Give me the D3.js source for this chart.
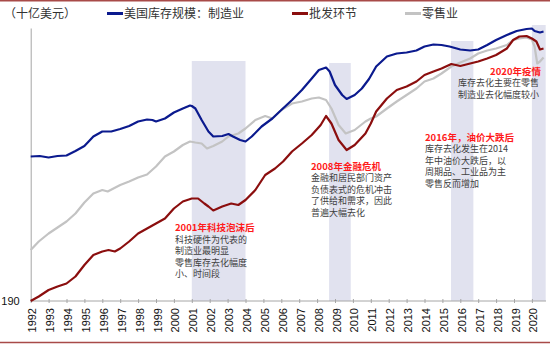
<!DOCTYPE html>
<html>
<head>
<meta charset="utf-8">
<script src="https://cdn.jsdelivr.net/npm/d3@7"></script>
<style>
  body { margin: 0; background: #fff; }
  svg { display: block; font-family: "Liberation Sans", Arial, sans-serif; }
  .cjk { font-family: "Noto Sans CJK SC", sans-serif; }
</style>
</head>
<body>
<svg id="chart" width="550" height="344"></svg>
<script>
// inventories, billions of dollars: [year, value]
const manufacturing = [
  [1992.0, 479], [1992.5, 480], [1993.0, 477], [1993.5, 480], [1994.0, 481], [1994.5, 490],
  [1995.0, 500], [1995.5, 519], [1996.0, 529], [1996.5, 529], [1997.0, 534], [1997.5, 540],
  [1998.0, 549], [1998.5, 553], [1998.8, 552], [1999.0, 549], [1999.5, 555], [2000.0, 567],
  [2000.5, 575], [2000.9, 581], [2001.0, 580], [2001.2, 575], [2001.55, 552], [2001.93, 529],
  [2002.2, 519], [2002.7, 520], [2003.05, 524], [2003.3, 519], [2003.7, 512], [2004.0, 509],
  [2004.35, 519], [2004.9, 539], [2005.5, 555], [2006.0, 572], [2006.6, 592], [2007.15, 612],
  [2007.7, 635], [2008.1, 652], [2008.5, 657], [2008.7, 649], [2009.0, 622], [2009.4, 602],
  [2009.65, 594], [2010.1, 602], [2010.5, 615], [2010.9, 634], [2011.3, 659], [2011.9, 679],
  [2012.45, 685], [2013.0, 687], [2013.55, 691], [2014.0, 699], [2014.5, 703], [2014.95, 702],
  [2015.4, 699], [2016.0, 693], [2016.55, 691], [2017.0, 693], [2017.5, 702], [2018.0, 712],
  [2018.6, 722], [2019.15, 730], [2019.7, 734], [2020.0, 735], [2020.15, 730], [2020.45, 727],
  [2020.65, 729]
];
const wholesale = [
  [1992.0, 190], [1992.45, 199], [1993.0, 212], [1993.5, 219], [1994.0, 225], [1994.5, 239],
  [1995.0, 262], [1995.5, 282], [1996.0, 289], [1996.35, 292], [1996.7, 289], [1997.0, 295],
  [1997.5, 309], [1998.0, 325], [1998.5, 335], [1999.0, 345], [1999.5, 355], [2000.0, 375],
  [2000.5, 389], [2001.0, 395], [2001.35, 395], [2001.7, 385], [2001.93, 379], [2002.2, 371],
  [2002.7, 379], [2003.2, 385], [2003.6, 382], [2004.0, 392], [2004.55, 412], [2005.1, 442],
  [2005.65, 455], [2006.1, 469], [2006.6, 489], [2007.15, 505], [2007.7, 522], [2008.2, 542],
  [2008.5, 560], [2008.8, 545], [2009.2, 512], [2009.65, 492], [2010.1, 502], [2010.7, 525],
  [2011.0, 545], [2011.3, 569], [2011.9, 595], [2012.45, 612], [2013.0, 619], [2013.55, 629],
  [2014.0, 642], [2014.5, 649], [2014.95, 655], [2015.5, 664], [2016.0, 660], [2016.55, 665],
  [2017.0, 669], [2017.5, 675], [2018.0, 682], [2018.6, 695], [2018.95, 712], [2019.3, 719],
  [2019.7, 720], [2020.0, 715], [2020.25, 709], [2020.45, 693], [2020.65, 695]
];
const retail = [
  [1992.0, 292], [1992.45, 309], [1993.0, 325], [1993.5, 337], [1994.0, 349], [1994.5, 365],
  [1995.0, 387], [1995.5, 405], [1996.0, 412], [1996.3, 409], [1997.0, 422], [1997.5, 429],
  [1998.0, 437], [1998.5, 443], [1999.0, 459], [1999.5, 479], [2000.0, 489], [2000.5, 502],
  [2000.9, 509], [2001.2, 507], [2001.55, 505], [2001.85, 495], [2002.2, 500], [2002.7, 509],
  [2003.05, 519], [2003.6, 525], [2004.0, 535], [2004.55, 552], [2005.1, 560], [2005.5, 555],
  [2006.0, 572], [2006.6, 585], [2007.15, 589], [2007.7, 595], [2008.1, 597], [2008.5, 592],
  [2008.8, 575], [2009.2, 542], [2009.6, 525], [2010.1, 532], [2010.7, 549], [2011.0, 555],
  [2011.3, 559], [2011.9, 575], [2012.45, 589], [2013.0, 602], [2013.55, 615], [2014.0, 629],
  [2014.5, 635], [2014.95, 645], [2015.5, 659], [2016.0, 667], [2016.55, 675], [2017.0, 685],
  [2017.5, 691], [2018.0, 695], [2018.6, 702], [2018.95, 712], [2019.3, 715], [2019.7, 717],
  [2020.0, 713], [2020.15, 699], [2020.3, 665], [2020.45, 669], [2020.65, 677]
];

// destocking periods: [start, end, top of shading]
const periods = [
  [2001.0, 2004.0, 670],
  [2008.67, 2009.88, 666],
  [2015.48, 2016.73, 710],
  [2020.0, 2020.77, 742]
];

const tickYears = [1992, 1993, 1994, 1995, 1996, 1997, 1998, 1999, 2000, 2001, 2002, 2003, 2004, 2005,
  2006, 2007, 2008, 2009, 2010, 2011, 2012, 2013, 2014, 2015, 2016, 2017, 2018, 2019, 2020];
const yTickLabels = [190];

const seriesNames = ["美国库存规模：制造业", "批发环节", "零售业"];
const unitLabel = "（十亿美元）";

const notes = [
  { title: "2001年科技泡沫后", lines: ["科技硬件为代表的", "制造业最明显", "零售库存去化幅度", "小、时间段"] },
  { title: "2008年金融危机", lines: ["金融和居民部门资产", "负债表式的危机冲击", "了供给和需求，因此", "普遍大幅去化"] },
  { title: "2016年，油价大跌后", lines: ["库存去化发生在2014", "年中油价大跌后，以", "周期品、工业品为主", "零售反而增加"] },
  { title: "2020年疫情", lines: ["库存去化主要在零售", "制造业去化幅度较小"] }
];

const svg = d3.select("#chart");

const x = d3.scaleLinear().domain([1992, 2020]).range([30.7, 531.9]);
const y = d3.scaleLinear().domain([190, 736]).range([301, 28]);

// frame lines top and bottom
svg.append("line").attr("x1", 0).attr("x2", 550).attr("y1", 0.75).attr("y2", 0.75)
  .attr("stroke", "#a84a48").attr("stroke-width", 1.5);
svg.append("line").attr("x1", 0).attr("x2", 550).attr("y1", 342.5).attr("y2", 342.5)
  .attr("stroke", "#a84a48").attr("stroke-width", 1.5);

// shaded periods
svg.append("g").selectAll("rect").data(periods).enter().append("rect")
  .attr("x", d => x(d[0]))
  .attr("y", d => y(d[2]))
  .attr("width", d => x(d[1]) - x(d[0]))
  .attr("height", d => y(190) - y(d[2]))
  .attr("fill", "#e1e2ef");

// axes
const xAxis = svg.append("g")
  .attr("transform", `translate(0,${y(190)})`)
  .call(d3.axisBottom(x).tickValues(tickYears).tickSize(3).tickFormat(""));
xAxis.select(".domain").attr("stroke", "#a6a6a6").attr("d", `M${x(1992)},0H546`);
xAxis.selectAll(".tick line").attr("stroke", "#a6a6a6").attr("y1", -2).attr("y2", 2);

xAxis.selectAll(".tick").append("text")
  .attr("transform", "translate(5,7) rotate(-90)")
  .attr("text-anchor", "end")
  .attr("fill", "#111")
  .style("font-size", "11px")
  .text(d => d);

const yAxis = svg.append("g")
  .attr("transform", `translate(${x(1992)},0)`)
  .call(d3.axisLeft(y).tickValues(yTickLabels).tickSize(0).tickPadding(11));
yAxis.select(".domain").attr("stroke", "#a6a6a6");
yAxis.selectAll(".tick text").attr("fill", "#111").style("font-size", "11px");

// series lines
const line = d3.line().x(d => x(d[0])).y(d => y(d[1]));
const series = [
  { data: retail, color: "#c3c3c3" },
  { data: wholesale, color: "#8b0e0e" },
  { data: manufacturing, color: "#0b1a8e" }
];
svg.append("g").selectAll("path").data(series).enter().append("path")
  .attr("d", d => line(d.data))
  .attr("fill", "none")
  .attr("stroke", d => d.color)
  .attr("stroke-width", 2.2)
  .attr("stroke-linejoin", "round");

// legend
svg.append("text").attr("class", "cjk").attr("x", 4).attr("y", 18)
  .style("font-size", "12px").attr("fill", "#333").text(unitLabel);

const legendItems = [
  { name: seriesNames[0], color: "#0b1a8e", x: 107 },
  { name: seriesNames[1], color: "#8b0e0e", x: 292 },
  { name: seriesNames[2], color: "#c3c3c3", x: 405 }
];
const legend = svg.append("g").selectAll("g").data(legendItems).enter().append("g")
  .attr("transform", d => `translate(${d.x},13.5)`);
legend.append("line").attr("x1", 0).attr("x2", 16)
  .attr("stroke", d => d.color).attr("stroke-width", 3);
legend.append("text").attr("class", "cjk").attr("x", 17).attr("y", 4.5)
  .style("font-size", "12px").attr("fill", "#333").text(d => d.name);

// annotations
const notePos = [
  { x: 175, y: 231, anchor: "start" },
  { x: 311, y: 169.5, anchor: "start" },
  { x: 425, y: 140.5, anchor: "start" },
  { x: 458, y: 74.5, anchor: "start", titleX: 541, titleAnchor: "end", step: 11.6 }
];
notes.forEach((n, i) => {
  const p = notePos[i];
  const step = p.step || 11.6;
  const g = svg.append("g").attr("class", "cjk").style("font-size", "9px");
  g.append("text")
    .attr("x", p.titleX || p.x).attr("y", p.y)
    .attr("text-anchor", p.titleAnchor || p.anchor)
    .attr("fill", "#ff1a1a").attr("font-weight", "bold")
    .style("font-size", "9.5px")
    .text(n.title);
  n.lines.forEach((t, j) => {
    g.append("text")
      .attr("x", p.x).attr("y", p.y + step * (j + 1))
      .attr("text-anchor", p.anchor)
      .attr("fill", "#404040")
      .text(t);
  });
});
</script>
</body>
</html>
